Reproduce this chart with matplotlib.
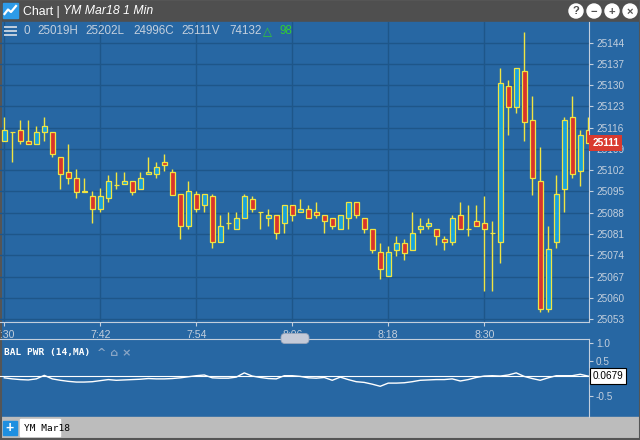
import matplotlib
matplotlib.use("Agg")
import matplotlib.pyplot as plt
import matplotlib.patches as mpatches
import matplotlib.transforms as mtransforms
import numpy as np

plt.rcParams['font.family'] = ['Liberation Sans', 'DejaVu Sans']

W, H = 640, 440

# ── 데이터: YM Mar18 1분봉 (7:30 ~ 8:43) ─────────────────────────────
opens = [25111.5, 25114.5, 25115.4, 25111.5, 25110.5, 25114.5, 25114.5, 25106.5, 25101.3, 25099.3,
         25095.3, 25093.4, 25089.4, 25092.7, 25097.3, 25097.6, 25098.3, 25095.7, 25100.6, 25100.6,
         25104.6, 25101.3, 25094.3, 25083.5, 25094.3, 25090.4, 25093.4, 25078.5, 25084.5, 25082.5,
         25086.4, 25092.4, 25088.4, 25086.4, 25087.4, 25084.5, 25090.4, 25088.4, 25089.4, 25088.4,
         25087.4, 25086.4, 25082.5, 25086.4, 25091.4, 25086.4, 25082.5, 25075.2, 25067.3, 25075.6,
         25078.2, 25075.6, 25082.5, 25083.5, 25082.5, 25079.2, 25078.5, 25087.4, 25082.5, 25085.4,
         25084.5, 25081.5, 25078.5, 25129.6, 25122.7, 25134.6, 25118.4, 25098.3, 25056.4, 25078.5,
         25095.7, 25119.4, 25101.6, 25115.4]
closes = [25115.4, 25114.5, 25111.5, 25110.5, 25114.5, 25116.4, 25107.5, 25100.6, 25099.6, 25094.7,
          25094.7, 25089.4, 25093.4, 25098.3, 25097.3, 25098.3, 25094.7, 25099.3, 25101.3, 25103.2,
          25103.6, 25093.7, 25083.5, 25095.3, 25089.4, 25094.3, 25078.5, 25083.5, 25084.5, 25086.4,
          25093.4, 25089.4, 25088.4, 25087.4, 25081.5, 25090.4, 25087.4, 25089.4, 25086.4, 25087.4,
          25085.4, 25083.5, 25087.4, 25091.4, 25087.4, 25082.5, 25075.6, 25069.6, 25075.2, 25078.2,
          25074.6, 25081.5, 25083.5, 25084.5, 25080.5, 25078.5, 25086.4, 25082.5, 25082.5, 25083.5,
          25082.5, 25081.5, 25130.6, 25122.7, 25135.6, 25117.8, 25099.6, 25056.4, 25076.2, 25094.3,
          25118.4, 25100.6, 25113.5, 25111.0]
highs = [25119.4, 25114.5, 25118.4, 25118.4, 25116.4, 25119.4, 25114.5, 25106.5, 25110.5, 25102.3,
         25099.3, 25095.3, 25096.3, 25100.3, 25101.3, 25101.3, 25098.3, 25101.3, 25106.5, 25104.6,
         25107.5, 25102.3, 25094.3, 25098.3, 25095.3, 25094.3, 25094.3, 25087.4, 25088.4, 25088.4,
         25094.3, 25093.4, 25088.4, 25089.4, 25087.4, 25090.4, 25090.4, 25092.4, 25090.4, 25091.4,
         25087.4, 25086.4, 25087.4, 25091.4, 25091.4, 25086.4, 25082.5, 25078.2, 25077.2, 25080.2,
         25079.2, 25088.4, 25086.4, 25086.4, 25082.5, 25080.2, 25087.4, 25091.4, 25090.4, 25090.4,
         25093.4, 25085.4, 25135.6, 25131.6, 25135.6, 25147.4, 25126.3, 25109.5, 25083.5, 25100.3,
         25119.4, 25126.3, 25115.4, 25119.4]
lows = [25111.5, 25104.6, 25110.5, 25110.5, 25110.5, 25111.5, 25106.5, 25095.7, 25097.6, 25092.7,
        25094.7, 25084.5, 25088.4, 25091.4, 25095.7, 25097.6, 25093.7, 25095.7, 25100.6, 25099.6,
        25101.6, 25093.7, 25079.5, 25082.5, 25088.4, 25088.4, 25076.5, 25078.5, 25082.5, 25082.5,
        25086.4, 25088.4, 25082.5, 25083.5, 25079.5, 25081.5, 25085.4, 25088.4, 25086.4, 25086.4,
        25081.5, 25082.5, 25082.5, 25082.5, 25086.4, 25081.5, 25074.6, 25066.3, 25067.3, 25073.6,
        25072.6, 25075.6, 25081.5, 25082.5, 25077.5, 25075.6, 25077.5, 25082.5, 25080.5, 25083.5,
        25062.4, 25062.4, 25071.6, 25113.5, 25120.7, 25111.5, 25093.7, 25055.4, 25055.4, 25076.5,
        25088.4, 25099.6, 25096.7, 25111.0]

# Balance of Power (14, MA)
bop = [0.02, -0.01, -0.03, -0.04, -0.01, 0.09, -0.01, -0.05, -0.08, -0.10,
       -0.10, -0.09, -0.06, -0.03, -0.05, -0.04, -0.03, -0.02, 0.00, -0.01,
       -0.01, 0.00, 0.02, 0.05, 0.08, 0.10, 0.02, 0.01, 0.01, 0.04,
       0.16, 0.07, 0.03, 0.00, -0.01, 0.08, 0.08, 0.06, 0.02, 0.01,
       0.03, -0.05, 0.04, -0.03, -0.09, -0.11, -0.16, -0.22, -0.13, -0.13,
       -0.12, -0.09, -0.05, -0.04, -0.03, -0.03, -0.01, -0.07, -0.03, 0.03,
       0.07, 0.08, 0.07, 0.10, 0.16, 0.06, 0.00, -0.05, 0.02, 0.08,
       0.08, 0.08, 0.12, 0.0679]

tick_idx = [0, 12, 24, 36, 48, 60]
tick_labels = ["7:30", "7:42", "7:54", "8:06", "8:18", "8:30"]
price_ticks = [25053, 25060, 25067, 25074, 25081, 25088, 25095, 25102,
               25109, 25116, 25123, 25130, 25137, 25144]
bop_ticks = [1.0, 0.5, -0.5]
last_price = 25111
last_bop = 0.0679

BG = "#2767a3"
GRID = "#1e5689"
AXC = "#c3cfdd"
UP = "#17a2dc"
DOWN = "#d8342c"
EDGE = "#f0e442"


def rect(x0, y0, x1, y1):
    return [x0 / W, 1 - y1 / H, (x1 - x0) / W, (y1 - y0) / H]


fig = plt.figure(figsize=(W / 100, H / 100), dpi=100)

# ── 배경 (픽셀 좌표) ──────────────────────────────────────────────────
bg = fig.add_axes([0, 0, 1, 1], zorder=0)
bg.set_xlim(0, W)
bg.set_ylim(H, 0)
bg.axis("off")
bg.add_patch(mpatches.Rectangle((0, 0), W, 22, color="#4f4f4f"))
bg.add_patch(mpatches.Rectangle((0, 22), W, 395, color=BG))
bg.add_patch(mpatches.Rectangle((0, 417), W, 23, color="#bcbcbc"))
bg.add_patch(mpatches.Rectangle((0.5, 0.5), W - 1, H - 1, fill=False, ec="#555555", lw=1.5))

# 타이틀바
bg.add_patch(mpatches.Rectangle((3, 3), 15, 15, color="#2d9be8"))
bg.plot([4.5, 8, 11, 16], [14, 9.5, 12, 6], color="white", lw=1.6)
bg.text(23, 11.5, "Chart |", color="white", fontsize=8.8, va="center", ha="left")
bg.text(63, 11.5, "YM Mar18 1 Min", color="white", fontsize=8.8, style="italic",
        va="center", ha="left")
for cx, sym in zip([576, 594, 612, 630], ["?", "\u2212", "+", "\u00d7"]):
    bg.add_patch(mpatches.Circle((cx, 11), 7, color="white"))
    bg.text(cx, 11.5, sym, color="#4f4f4f", fontsize=8, fontweight="bold",
            ha="center", va="center")

# 하단 탭
bg.add_patch(mpatches.Rectangle((3, 421), 14, 14, color="#1e8fe0"))
bg.text(10, 428, "+", color="white", fontsize=10, fontweight="bold", ha="center", va="center")
bg.add_patch(mpatches.Rectangle((20, 419.5), 40, 17, color="white"))
bg.text(24, 428.5, "YM Mar18", color="black", fontsize=6.8, ha="left", va="center",
        family=["DejaVu Sans Mono"])

# ── 캔들 차트 ────────────────────────────────────────────────────────
x = np.arange(len(opens))
o = np.array(opens)
c = np.array(closes)
ax = fig.add_axes(rect(0, 22, 589, 321.5), zorder=2)
ax.set_facecolor("none")
ax.vlines(x, lows, highs, color=EDGE, lw=1.0, zorder=3)
colors = [UP if cc > oo else DOWN for oo, cc in zip(o, c)]
ax.bar(x, np.abs(c - o), bottom=np.minimum(o, c), width=0.6, color=colors,
       edgecolor=EDGE, linewidth=0.9, zorder=4)
ax.set_xlim(-0.54, 73.1)
ax.set_ylim(25052.2, 25150.8)
ax.set_yticks(price_ticks)
ax.set_yticklabels([str(p) for p in price_ticks])
ax.set_xticks(tick_idx)
ax.set_xticklabels(tick_labels)
ax.yaxis.tick_right()
ax.grid(True, color=GRID, lw=1.0, zorder=0)
ax.set_axisbelow(True)
ax.tick_params(axis="y", colors=AXC, length=3, width=0.8, pad=2, labelsize=7.2)
ax.tick_params(axis="x", colors=AXC, length=3, width=0.8, pad=3, labelsize=7.6)
for s in ["left", "top"]:
    ax.spines[s].set_visible(False)
for s in ["right", "bottom"]:
    ax.spines[s].set_color(AXC)
    ax.spines[s].set_linewidth(0.8)

blend = mtransforms.blended_transform_factory(ax.transAxes, ax.transData)
ax.text(1.006, last_price, str(last_price), transform=blend, ha="left", va="center",
        color="white", fontsize=7.4, fontweight="bold", clip_on=False, zorder=6,
        bbox=dict(boxstyle="square,pad=0.3", fc="#d93a2f", ec="none"))

# ── BAL PWR 보조지표 ─────────────────────────────────────────────────
ax2 = fig.add_axes(rect(0, 338.5, 589, 417), zorder=2)
ax2.set_facecolor("none")
ax2.plot(x, bop, color="white", lw=1.0)
ax2.axhline(last_bop, color="white", lw=0.8)
ax2.set_xlim(-0.54, 73.1)
ax2.set_ylim(-1.09, 1.134)
ax2.set_xticks([])
ax2.set_yticks(bop_ticks)
ax2.set_yticklabels([f"{v:.1f}" for v in bop_ticks])
ax2.yaxis.tick_right()
ax2.tick_params(axis="y", colors=AXC, length=3, width=0.8, pad=2, labelsize=7.2)
for s in ["left", "bottom"]:
    ax2.spines[s].set_visible(False)
for s in ["right", "top"]:
    ax2.spines[s].set_color(AXC)
    ax2.spines[s].set_linewidth(0.8)
blend2 = mtransforms.blended_transform_factory(ax2.transAxes, ax2.transData)
ax2.text(1.006, last_bop, f"{last_bop:.4f}", transform=blend2, ha="left", va="center",
         color="black", fontsize=7.2, clip_on=False, zorder=6,
         bbox=dict(boxstyle="square,pad=0.3", fc="white", ec="black", lw=0.8))
ax2.text(0.007, 0.82, "BAL PWR (14,MA)", transform=ax2.transAxes, color="white",
         fontsize=6.8, fontweight="bold", family=["DejaVu Sans Mono"], va="center")
ax2.text(0.165, 0.82, "^ \u2302 \u00d7", transform=ax2.transAxes, color="#8aa6c6",
         fontsize=8, fontweight="bold", family=["DejaVu Sans"], va="center")

# ── 오버레이: 헤더 텍스트, 스크롤 핸들 ───────────────────────────────
ov = fig.add_axes([0, 0, 1, 1], zorder=5)
ov.set_xlim(0, W)
ov.set_ylim(H, 0)
ov.axis("off")
for yy in [27, 31, 35]:
    ov.plot([5, 16], [yy, yy], color=AXC, lw=1.4)
header = [(23, "0"), (37, "25019H"), (85, "25202L"), (133, "24996C"),
          (181, "25111V"), (229, "74132")]
for hx, s in header:
    ov.text(hx, 31.5, s, color=AXC, fontsize=8.4, va="center", ha="left")
ov.text(263, 31.5, "\u25b3", color="#33cc33", fontsize=8.4, va="center", ha="left",
        family=["DejaVu Sans"])
ov.text(279, 31.5, "98", color="#33cc33", fontsize=8.4, va="center", ha="left")
ov.add_patch(mpatches.FancyBboxPatch((281, 333.5), 28, 10, boxstyle="round,pad=0,rounding_size=4",
                                     fc="#c4cad8", ec="#9aa6bb", lw=0.6))

fig.savefig("out.png", dpi=100)
